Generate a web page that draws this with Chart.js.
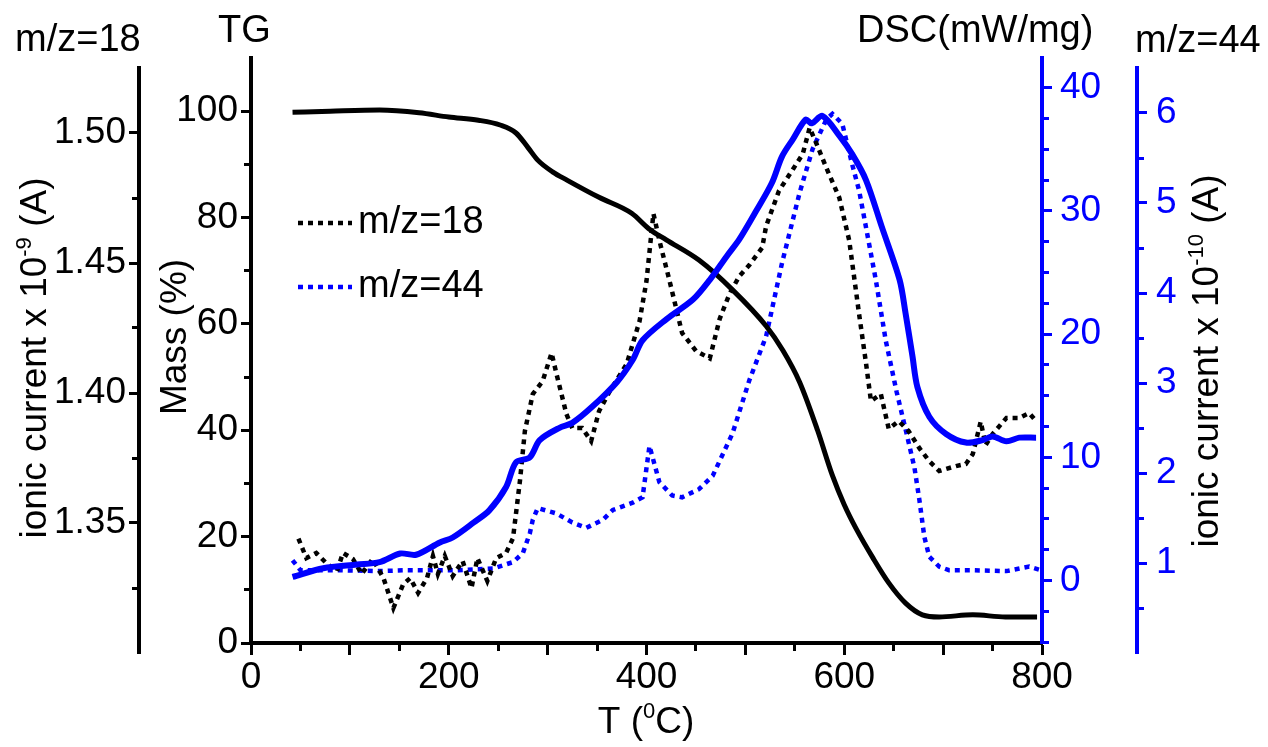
<!DOCTYPE html>
<html>
<head>
<meta charset="utf-8">
<title>TG / DSC / MS</title>
<script src="https://cdn.jsdelivr.net/npm/chart.js@4.4.1/dist/chart.umd.min.js"></script>
<style>
  html, body { margin: 0; padding: 0; background: #fff; }
  #wrap { width: 1268px; height: 747px; }
</style>
</head>
<body>
<div id="wrap"><canvas id="chart" width="1268" height="747"></canvas></div>
<script>
// ---- data ----
const tgTemp = [42, 80, 130, 170, 200, 230, 252, 268, 280, 290, 305, 320, 352, 385, 403, 420, 453, 487, 521, 538, 555, 573, 588, 600, 612, 629, 645, 662, 679, 696, 730, 763, 795];
const tgMass = [99.8, 100, 100.2, 99.7, 98.9, 98.3, 97.4, 95.9, 93.2, 90.8, 88.6, 87.0, 83.8, 80.8, 77.8, 75.8, 72.0, 66.4, 59.6, 55.0, 49.0, 40.0, 31.5, 26.0, 21.5, 16.0, 11.3, 7.5, 5.3, 4.9, 5.3, 4.9, 4.9];

const dscTemp = [42, 73, 107, 130, 151, 167, 191, 204, 225, 241, 258, 268, 282, 292, 312, 325, 345, 370, 386, 396, 420, 447, 464, 481, 494, 511, 527, 537, 548, 561, 567, 578, 595, 608, 622, 638, 656, 662, 669, 674, 686, 703, 723, 740, 750, 764, 777, 794];
const dscValue = [0.3, 1.0, 1.3, 1.5, 2.2, 2.1, 3.1, 3.5, 4.7, 5.7, 7.6, 9.6, 10.0, 11.4, 12.4, 12.8, 14.1, 16.1, 17.9, 19.5, 21.2, 22.8, 24.4, 26.3, 27.7, 30.0, 32.3, 34.4, 35.8, 37.4, 37.1, 37.7, 36.1, 34.6, 32.5, 28.7, 24.4, 21.7, 18.2, 15.7, 13.3, 11.9, 11.2, 11.4, 11.7, 11.3, 11.6, 11.6];

const ms18Temp = [48, 56, 66, 76, 87, 93, 103, 112, 123, 134, 144, 154, 161, 169, 178, 184, 189, 196, 204, 214, 223, 229, 239, 248, 258, 265, 272, 277, 285, 295, 304, 309, 319, 325, 335, 344, 352, 363, 380, 393, 400, 407, 413, 423, 436, 450, 464, 474, 484, 494, 504, 517, 521, 534, 548, 558, 565, 572, 582, 595, 605, 615, 622, 627, 637, 645, 655, 665, 676, 686, 696, 713, 723, 730, 738, 743, 750, 764, 777, 787, 794];
const ms18Current = [1.344, 1.3365, 1.3385, 1.3346, 1.3315, 1.3385, 1.3362, 1.3304, 1.3362, 1.3288, 1.3173, 1.3265, 1.3288, 1.3231, 1.3288, 1.3373, 1.3304, 1.3373, 1.3296, 1.3354, 1.325, 1.3365, 1.3277, 1.3365, 1.3385, 1.3442, 1.3662, 1.3854, 1.3996, 1.4046, 1.4154, 1.4073, 1.3919, 1.3865, 1.3865, 1.3815, 1.393, 1.4008, 1.4112, 1.4277, 1.4431, 1.469, 1.4587, 1.4436, 1.4231, 1.4162, 1.4133, 1.4285, 1.4382, 1.445, 1.4492, 1.4559, 1.4642, 1.4778, 1.486, 1.4919, 1.502, 1.4958, 1.4865, 1.4751, 1.4587, 1.4304, 1.4115, 1.3969, 1.3996, 1.3862, 1.3892, 1.3854, 1.3788, 1.3738, 1.37, 1.3719, 1.3727, 1.3765, 1.389, 1.38, 1.3842, 1.3904, 1.3904, 1.3923, 1.3892];

const ms44Temp = [42, 50, 90, 130, 157, 208, 245, 265, 275, 282, 285, 290, 309, 325, 339, 356, 366, 386, 396, 403, 413, 426, 436, 453, 467, 487, 504, 521, 537, 555, 568, 582, 588, 598, 608, 615, 622, 632, 642, 653, 663, 671, 676, 681, 686, 696, 706, 730, 764, 787, 799];
const ms44Current = [1.03, 0.92, 0.92, 0.91, 0.92, 0.92, 0.94, 1.01, 1.11, 1.33, 1.48, 1.61, 1.55, 1.45, 1.39, 1.48, 1.59, 1.67, 1.73, 2.30, 1.90, 1.75, 1.73, 1.82, 1.97, 2.44, 3.03, 3.52, 4.33, 5.12, 5.60, 5.93, 5.99, 5.88, 5.43, 5.14, 4.73, 4.14, 3.47, 2.90, 2.44, 2.06, 1.70, 1.29, 1.07, 0.96, 0.92, 0.92, 0.91, 0.96, 0.92];

// labelled tick values
const tempLabels = [0, 200, 400, 600, 800];
const massLabels = [0, 20, 40, 60, 80, 100];
const ms18Labels = [1.35, 1.40, 1.45, 1.50];
const dscLabels = [0, 10, 20, 30, 40];
const ms44Labels = [1, 2, 3, 4, 5, 6];

const FONT = '"Liberation Sans", Arial, Helvetica, sans-serif';
const BLUE = '#0000ff';
const BLACK = '#000000';
const OUTER_AXIS_DROP = 10; // the two ion-current axes sit a little lower than the plot frame

function toPoints(xs, ys) {
    return xs.map((x, i) => ({ x: x, y: ys[i] }));
}

function hasLabel(list, v) {
    return list.some(l => Math.abs(l - v) < 1e-6);
}

// short ticks for the unlabelled positions
function minorDashRight(list) {
    return ctx => (ctx.tick && !hasLabel(list, ctx.tick.value)) ? [5, 100] : [];
}
function minorDashLeft(list) {
    return ctx => (ctx.tick && !hasLabel(list, ctx.tick.value)) ? [0, 3, 5, 100] : [];
}

function drawParts(ctx, x, y, angle, parts, size) {
    ctx.save();
    ctx.translate(x, y);
    ctx.rotate(angle);
    const supSize = Math.round(size * 0.6);
    let total = 0;
    parts.forEach(p => {
        ctx.font = (p.sup ? supSize : size) + 'px ' + FONT;
        p.w = ctx.measureText(p.text).width;
        total += p.w;
    });
    let cx = -total / 2;
    ctx.textAlign = 'left';
    ctx.textBaseline = 'alphabetic';
    parts.forEach(p => {
        ctx.font = (p.sup ? supSize : size) + 'px ' + FONT;
        ctx.fillText(p.text, cx, p.sup ? -size * 0.4 : 0);
        cx += p.w;
    });
    ctx.restore();
}

const shiftOuterAxes = {
    id: 'shiftOuterAxes',
    afterLayout(chart) {
        ['y18', 'y44'].forEach(id => {
            const s = chart.scales[id];
            s.top += OUTER_AXIS_DROP;
            s.bottom += OUTER_AXIS_DROP;
            s.configure();
        });
    }
};

const extraText = {
    id: 'extraText',
    afterDraw(chart) {
        const ctx = chart.ctx;
        ctx.save();
        ctx.fillStyle = BLACK;
        ctx.font = '38px ' + FONT;
        ctx.textAlign = 'left';
        ctx.textBaseline = 'alphabetic';
        ctx.fillText('m/z=18', 15, 51);
        ctx.fillText('TG', 218, 42);
        ctx.fillText('DSC(mW/mg)', 857, 42);
        ctx.fillText('m/z=44', 1135, 52);

        // legend
        const items = [
            { label: 'm/z=18', color: BLACK, y: 223 },
            { label: 'm/z=44', color: BLUE, y: 287 }
        ];
        items.forEach(it => {
            ctx.beginPath();
            ctx.setLineDash([5, 5]);
            ctx.lineWidth = 4.5;
            ctx.strokeStyle = it.color;
            ctx.moveTo(298, it.y);
            ctx.lineTo(352, it.y);
            ctx.stroke();
            ctx.setLineDash([]);
            ctx.fillStyle = BLACK;
            ctx.font = '38px ' + FONT;
            ctx.textBaseline = 'middle';
            ctx.fillText(it.label, 358, it.y);
        });

        // axis titles
        ctx.fillStyle = BLACK;
        drawParts(ctx, 46, 358, -Math.PI / 2,
            [{ text: 'ionic current x 10' }, { text: '-9', sup: true }, { text: ' (A)' }], 37);
        drawParts(ctx, 186, 337, -Math.PI / 2, [{ text: 'Mass (%)' }], 37);
        drawParts(ctx, 1218, 361, -Math.PI / 2,
            [{ text: 'ionic current x 10' }, { text: '-10', sup: true }, { text: ' (A)' }], 37);
        drawParts(ctx, 646, 733, 0,
            [{ text: 'T (' }, { text: '0', sup: true }, { text: 'C)' }], 37);
        ctx.restore();
    }
};

const tickFont = { family: FONT, size: 37 };

const chart = new Chart(document.getElementById('chart'), {
    type: 'line',
    data: {
        datasets: [
            {
                label: 'DSC',
                data: toPoints(dscTemp, dscValue),
                yAxisID: 'yDsc',
                borderColor: BLUE,
                borderWidth: 6,
                pointRadius: 0,
                tension: 0.3,
                fill: false,
                clip: false
            },
            {
                label: 'TG',
                data: toPoints(tgTemp, tgMass),
                yAxisID: 'yMass',
                borderColor: BLACK,
                borderWidth: 5,
                pointRadius: 0,
                cubicInterpolationMode: 'monotone',
                fill: false,
                clip: false
            },
            {
                label: 'm/z=18',
                data: toPoints(ms18Temp, ms18Current),
                yAxisID: 'y18',
                borderColor: BLACK,
                borderWidth: 4.5,
                borderDash: [5, 5],
                pointRadius: 0,
                tension: 0,
                fill: false,
                clip: false
            },
            {
                label: 'm/z=44',
                data: toPoints(ms44Temp, ms44Current),
                yAxisID: 'y44',
                borderColor: BLUE,
                borderWidth: 4.5,
                borderDash: [5, 5],
                pointRadius: 0,
                tension: 0,
                fill: false,
                clip: false
            }
        ]
    },
    options: {
        responsive: false,
        animation: false,
        layout: { padding: { top: 58, left: 0, right: 0, bottom: 0 } },
        plugins: {
            legend: { display: false },
            tooltip: { enabled: false }
        },
        scales: {
            x: {
                type: 'linear',
                position: 'bottom',
                min: 0,
                max: 800,
                ticks: {
                    stepSize: 50,
                    autoSkip: false,
                    maxRotation: 0,
                    includeBounds: false,
                    padding: 1,
                    color: BLACK,
                    font: tickFont,
                    callback: v => hasLabel(tempLabels, v) ? String(v) : ''
                },
                grid: {
                    drawOnChartArea: false,
                    tickLength: 12,
                    tickWidth: 3,
                    tickColor: BLACK,
                    tickBorderDash: ctx => (ctx.tick && ctx.tick.value % 100 !== 0) ? [6, 100] : []
                },
                border: { color: BLACK, width: 4 },
                afterFit: s => { s.height = 104; }
            },
            yMass: {
                type: 'linear',
                position: 'left',
                weight: 0,
                min: 0,
                max: 110,
                ticks: {
                    stepSize: 10,
                    autoSkip: false,
                    includeBounds: false,
                    padding: 3,
                    color: BLACK,
                    font: tickFont,
                    callback: v => hasLabel(massLabels, v) ? String(v) : ''
                },
                afterBuildTicks: s => { s.ticks = s.ticks.filter(t => t.value <= 100); },
                grid: {
                    drawOnChartArea: false,
                    tickLength: 10,
                    tickWidth: 3,
                    tickColor: BLACK,
                    tickBorderDash: minorDashLeft(massLabels)
                },
                border: { color: BLACK, width: 4 },
                afterFit: s => { s.width = 112; }
            },
            y18: {
                type: 'linear',
                position: 'left',
                weight: 10,
                min: 1.30,
                max: 1.525,
                ticks: {
                    stepSize: 0.025,
                    autoSkip: false,
                    includeBounds: false,
                    padding: 3,
                    color: BLACK,
                    font: tickFont,
                    callback: v => hasLabel(ms18Labels, v) ? v.toFixed(2) : ''
                },
                afterBuildTicks: s => { s.ticks = s.ticks.filter(t => t.value > 1.31 && t.value <= 1.51); },
                grid: {
                    drawOnChartArea: false,
                    tickLength: 10,
                    tickWidth: 3,
                    tickColor: BLACK,
                    tickBorderDash: minorDashLeft(ms18Labels)
                },
                border: { color: BLACK, width: 4 },
                afterFit: s => { s.width = 139; }
            },
            yDsc: {
                type: 'linear',
                position: 'right',
                weight: 0,
                min: -5.06,
                max: 42.4,
                ticks: {
                    stepSize: 2.5,
                    autoSkip: false,
                    includeBounds: false,
                    padding: 8,
                    color: BLUE,
                    font: tickFont,
                    callback: v => hasLabel(dscLabels, v) ? String(v) : ''
                },
                grid: {
                    drawOnChartArea: false,
                    tickLength: 10,
                    tickWidth: 3,
                    tickColor: BLUE,
                    tickBorderDash: minorDashRight(dscLabels)
                },
                border: { color: BLUE, width: 4 },
                afterFit: s => { s.width = 95; }
            },
            y44: {
                type: 'linear',
                position: 'right',
                weight: 10,
                min: 0,
                max: 6.5,
                ticks: {
                    stepSize: 0.5,
                    autoSkip: false,
                    includeBounds: false,
                    padding: 9,
                    color: BLUE,
                    font: tickFont,
                    callback: v => hasLabel(ms44Labels, v) ? String(v) : ''
                },
                afterBuildTicks: s => { s.ticks = s.ticks.filter(t => t.value >= 0.4 && t.value <= 6.2); },
                grid: {
                    drawOnChartArea: false,
                    tickLength: 10,
                    tickWidth: 3,
                    tickColor: BLUE,
                    tickBorderDash: minorDashRight(ms44Labels)
                },
                border: { color: BLUE, width: 4 },
                afterFit: s => { s.width = 131; }
            }
        }
    },
    plugins: [shiftOuterAxes, extraText]
});
</script>
</body>
</html>
